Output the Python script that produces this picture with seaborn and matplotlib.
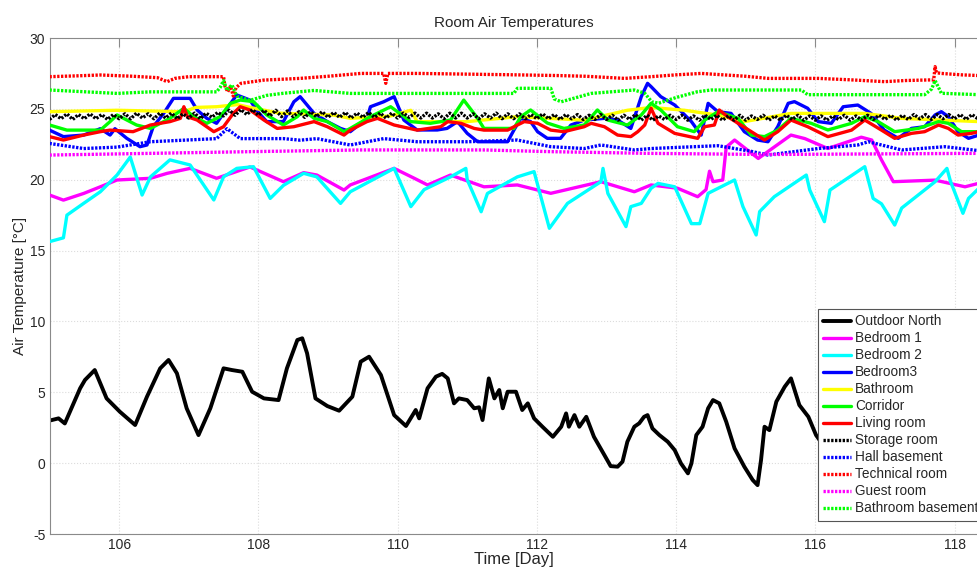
import numpy as np
import pandas as pd
import matplotlib
matplotlib.use("Agg")
import matplotlib.pyplot as plt
import seaborn as sns

# ---------------- data ----------------
outdoor_x = [105.0, 105.13, 105.22, 105.44, 105.51, 105.65, 105.82, 106.01, 106.23, 106.40,
             106.59, 106.71, 106.83, 106.97, 107.14, 107.31, 107.50, 107.62, 107.77, 107.91,
             108.08, 108.29, 108.41, 108.56, 108.63, 108.70, 108.82, 108.99, 109.16, 109.35,
             109.47, 109.59, 109.76, 109.95, 110.12, 110.26, 110.31, 110.43, 110.55, 110.64,
             110.72, 110.81, 110.88, 111.00, 111.10, 111.17, 111.22, 111.31, 111.39, 111.46,
             111.51, 111.58, 111.70, 111.79, 111.87, 111.96, 112.08, 112.23, 112.35, 112.42,
             112.46, 112.54, 112.61, 112.71, 112.82, 112.97, 113.06, 113.16, 113.23, 113.30,
             113.40, 113.47, 113.54, 113.59, 113.66, 113.76, 113.88, 113.98, 114.07, 114.17,
             114.22, 114.29, 114.38, 114.46, 114.53, 114.62, 114.72, 114.84, 114.98, 115.10,
             115.17, 115.22, 115.27, 115.34, 115.44, 115.56, 115.65, 115.77, 115.90, 116.01,
             116.11, 116.30, 116.60, 116.90, 117.20, 117.50, 117.80, 118.10, 118.40]
outdoor_y = [3.00, 3.16, 2.80, 5.28, 5.87, 6.57, 4.57, 3.63, 2.69, 4.69,
             6.69, 7.28, 6.34, 3.87, 1.98, 3.87, 6.69, 6.57, 6.45, 5.04,
             4.57, 4.45, 6.69, 8.69, 8.81, 7.75, 4.57, 4.03, 3.70, 4.69,
             7.16, 7.51, 6.22, 3.39, 2.62, 3.75, 3.16, 5.28, 6.10, 6.30,
             5.98, 4.22, 4.57, 4.45, 3.87, 3.94, 3.04, 5.98, 4.57, 5.16,
             3.87, 5.04, 5.04, 3.75, 4.22, 3.16, 2.57, 1.86, 2.57, 3.51,
             2.57, 3.39, 2.57, 3.27, 1.86, 0.57, -0.21, -0.25, 0.10, 1.51,
             2.57, 2.81, 3.27, 3.39, 2.45, 1.98, 1.51, 0.92, -0.02, -0.72,
             -0.02, 1.98, 2.57, 3.87, 4.45, 4.22, 2.92, 1.04, -0.25, -1.19,
             -1.55, 0.22, 2.57, 2.33, 4.34, 5.39, 5.98, 4.10, 3.27, 1.98,
             1.28, 0.80, 2.50, 5.00, 4.00, 1.50, 3.00, 5.50, 4.00]

bed1_x = [105.0, 105.2, 105.49, 105.73, 105.97, 106.45, 106.69, 107.02, 107.4, 107.88,
          108.36, 108.65, 108.84, 109.23, 109.32, 109.95, 110.24, 110.43, 110.76, 111.24,
          111.72, 112.2, 112.92, 113.4, 113.64, 114.02, 114.31, 114.43, 114.48, 114.53,
          114.67, 114.72, 114.84, 115.18, 115.65, 115.85, 116.18, 116.66, 116.81, 116.95,
          117.12, 117.72, 118.15, 118.35]
bed1_y = [18.92, 18.56, 19.03, 19.5, 19.98, 20.1, 20.45, 20.8, 20.1, 20.9,
          19.86, 20.5, 20.33, 19.27, 19.63, 20.8, 20.1, 19.63, 20.33, 19.5,
          19.63, 19.04, 19.86, 19.15, 19.63, 19.4, 18.8, 19.3, 20.6, 19.86,
          19.98, 22.3, 22.8, 21.5, 23.15, 22.9, 22.2, 23.0, 22.8, 21.4,
          19.86, 19.97, 19.5, 19.75]

bed2_x = [105.0, 105.2, 105.25, 105.49, 105.73, 105.97, 106.16, 106.33, 106.45, 106.73,
          107.02, 107.36, 107.5, 107.69, 107.93, 108.17, 108.36, 108.65, 108.84, 109.18,
          109.32, 109.95, 110.19, 110.38, 110.76, 110.98, 111.0, 111.2, 111.29, 111.72,
          111.96, 112.18, 112.44, 112.92, 112.95, 113.02, 113.28, 113.35, 113.5, 113.64,
          113.74, 113.98, 114.22, 114.34, 114.46, 114.84, 114.96, 115.15, 115.2, 115.41,
          115.87, 115.92, 116.13, 116.21, 116.71, 116.83, 116.95, 117.14, 117.24, 117.72,
          117.89, 117.94, 118.12, 118.2, 118.35]
bed2_y = [15.63, 15.9, 17.5, 18.33, 19.15, 20.33, 21.6, 18.92, 20.2, 21.4,
          21.04, 18.57, 20.2, 20.8, 20.92, 18.68, 19.6, 20.45, 20.2, 18.33,
          19.15, 20.8, 18.1, 19.3, 20.2, 20.8, 20.0, 17.74, 19.03, 20.2,
          20.57, 16.57, 18.33, 19.86, 20.8, 19.03, 16.69, 18.1, 18.33, 19.39,
          19.74, 19.5, 16.9, 16.9, 19.04, 19.98, 18.1, 16.1, 17.75, 18.8,
          20.33, 19.27, 17.04, 19.27, 20.92, 18.68, 18.3, 16.8, 18.0, 19.86,
          20.8, 19.9, 17.63, 18.68, 19.4]

bed3_x = [105.0, 105.2, 105.49, 105.73, 105.87, 105.94, 106.11, 106.3, 106.4, 106.49,
          106.64, 106.78, 107.02, 107.12, 107.26, 107.4, 107.55, 107.69, 107.88, 107.98,
          108.12, 108.36, 108.51, 108.6, 108.8, 108.99, 109.18, 109.32, 109.56, 109.61,
          109.8, 109.95, 110.09, 110.28, 110.57, 110.71, 110.86, 111.0, 111.15, 111.58,
          111.67, 111.77, 111.91, 112.01, 112.15, 112.34, 112.49, 112.68, 112.97, 113.16,
          113.35, 113.5, 113.59, 113.64, 113.78, 113.98, 114.22, 114.36, 114.46, 114.6,
          114.79, 114.98, 115.17, 115.32, 115.46, 115.61, 115.7, 115.89, 116.04, 116.23,
          116.4, 116.61, 116.8, 116.99, 117.19, 117.38, 117.57, 117.72, 117.81, 117.91,
          118.05, 118.2, 118.35]
bed3_y = [23.5, 23.04, 23.15, 23.6, 23.15, 23.6, 22.92, 22.33, 22.45, 23.74,
          24.68, 25.74, 25.74, 24.92, 24.33, 23.98, 25.04, 25.98, 25.62, 24.86,
          24.1, 24.1, 25.5, 25.86, 24.68, 24.1, 23.62, 23.39, 24.33, 25.15,
          25.5, 25.86, 24.21, 23.51, 23.51, 23.62, 24.1, 23.27, 22.68, 22.68,
          23.5, 24.33, 24.1, 23.39, 22.92, 22.92, 23.86, 24.21, 24.33, 24.21,
          23.62, 25.86, 26.8, 26.57, 25.86, 25.27, 24.1, 23.15, 25.39, 24.8,
          24.68, 23.39, 22.8, 22.68, 23.74, 25.39, 25.51, 25.04, 24.1, 23.98,
          25.15, 25.27, 24.68, 23.5, 22.92, 23.62, 23.74, 24.57, 24.8, 24.45,
          23.39, 22.92, 23.15]

bath_x = [105.0, 105.97, 106.93, 107.1, 107.4, 107.7, 107.88, 108.3, 109.08, 109.32,
          109.9, 110.19, 110.28, 111.0, 111.72, 112.68, 113.3, 113.64, 114.12, 114.6,
          114.98, 115.65, 116.71, 117.24, 118.35]
bath_y = [24.8, 24.9, 24.8, 25.1, 25.15, 25.3, 25.1, 24.7, 24.56, 24.33,
          24.5, 24.9, 24.1, 24.1, 24.45, 24.2, 24.9, 25.1, 24.9, 24.56,
          24.1, 24.68, 24.68, 24.33, 24.1]

corr_x = [105.0, 105.25, 105.73, 105.87, 105.97, 106.25, 106.45, 106.73, 106.93, 107.07,
          107.26, 107.45, 107.6, 107.74, 107.93, 108.12, 108.36, 108.56, 108.65, 108.8,
          108.99, 109.23, 109.32, 109.61, 109.9, 110.19, 110.47, 110.76, 110.95, 111.15,
          111.24, 111.67, 111.77, 111.91, 112.15, 112.39, 112.68, 112.87, 113.02, 113.3,
          113.5, 113.64, 113.78, 114.02, 114.26, 114.41, 114.6, 114.89, 115.08, 115.27,
          115.46, 115.65, 115.94, 116.18, 116.52, 116.71, 116.9, 117.14, 117.48, 117.77,
          117.91, 118.1, 118.35]
corr_y = [23.86, 23.5, 23.5, 24.1, 24.57, 23.86, 23.62, 24.33, 25.04, 24.45,
          23.98, 24.45, 25.39, 25.62, 25.51, 24.57, 23.86, 24.45, 24.92, 24.33,
          24.1, 23.39, 23.62, 24.45, 25.15, 24.1, 23.98, 24.21, 25.62, 24.33,
          23.62, 23.62, 24.45, 24.92, 24.0, 23.62, 23.86, 24.92, 24.21, 23.86,
          24.57, 25.39, 24.92, 23.74, 23.39, 24.2, 24.8, 24.33, 23.15, 23.04,
          23.5, 24.33, 23.98, 23.51, 23.98, 24.45, 24.1, 23.39, 23.62, 24.1,
          23.98, 23.39, 23.39]

living_x = [105.0, 105.2, 105.49, 105.73, 105.87, 106.2, 106.45, 106.73, 106.88, 106.93,
            106.98, 107.12, 107.36, 107.5, 107.64, 107.74, 107.88, 108.08, 108.27, 108.51,
            108.8, 108.99, 109.23, 109.32, 109.56, 109.71, 109.95, 110.28, 110.62, 110.72,
            110.91, 111.1, 111.24, 111.58, 111.72, 111.82, 112.01, 112.2, 112.39, 112.68,
            112.78, 112.97, 113.16, 113.35, 113.45, 113.55, 113.64, 113.74, 113.98, 114.31,
            114.41, 114.55, 114.62, 114.74, 115.08, 115.27, 115.46, 115.65, 115.89, 116.18,
            116.52, 116.71, 116.95, 117.14, 117.38, 117.57, 117.77, 117.91, 118.05, 118.24,
            118.35]
living_y = [23.04, 22.8, 23.15, 23.39, 23.5, 23.39, 23.86, 24.1, 24.33, 25.15,
            24.45, 24.21, 23.39, 23.74, 24.68, 25.15, 24.92, 24.21, 23.62, 23.74,
            24.1, 23.74, 23.15, 23.5, 24.1, 24.33, 23.86, 23.5, 23.74, 24.1,
            23.98, 23.62, 23.5, 23.5, 23.86, 24.1, 23.98, 23.5, 23.39, 23.74,
            23.98, 23.74, 23.15, 23.04, 23.39, 23.86, 25.04, 23.98, 23.27, 22.92,
            23.74, 23.86, 24.92, 24.45, 23.39, 22.8, 23.39, 24.21, 23.74, 23.04,
            23.5, 24.21, 23.5, 22.92, 23.27, 23.39, 23.86, 23.62, 23.15, 23.27,
            23.39]

# Storage room: 2-hourly readings (12 per day) starting at day 105
storage_step = 1.0 / 12.0
storage_y = [
    24.25, 24.6, 24.3, 24.65, 24.25, 24.6, 24.3, 24.65, 24.3, 24.6, 24.25, 24.6,
    24.3, 24.65, 24.3, 24.7, 24.35, 24.65, 24.3, 24.7, 24.35, 24.7, 24.3, 24.65,
    24.35, 24.7, 24.3, 24.7, 24.4, 24.75, 24.5, 24.9, 24.55, 24.95, 24.6, 24.95,
    24.55, 24.9, 24.5, 24.9, 24.45, 24.85, 24.45, 24.8, 24.4, 24.8, 24.45, 24.8,
    24.4, 24.75, 24.4, 24.75, 24.35, 24.7, 24.4, 24.75, 24.4, 24.7, 24.35, 24.7,
    24.35, 24.7, 24.4, 24.7, 24.35, 24.7, 24.35, 24.65, 24.3, 24.7, 24.35, 24.7,
    24.35, 24.65, 24.3, 24.65, 24.35, 24.7, 24.3, 24.65, 24.3, 24.65, 24.3, 24.6,
    24.3, 24.65, 24.3, 24.6, 24.25, 24.6, 24.3, 24.6, 24.25, 24.55, 24.25, 24.6,
    24.25, 24.55, 24.2, 24.55, 24.25, 24.6, 24.2, 24.55, 24.2, 24.5, 24.25, 24.55,
    24.25, 24.55, 24.2, 24.5, 24.2, 24.55, 24.25, 24.55, 24.2, 24.5, 24.2, 24.55,
    24.2, 24.5, 24.25, 24.55, 24.2, 24.5, 24.2, 24.55, 24.25, 24.55, 24.2, 24.5,
    24.2, 24.5, 24.2, 24.5, 24.25, 24.55, 24.2, 24.5, 24.2, 24.55, 24.25, 24.55,
    24.25, 24.55, 24.2, 24.55, 24.25, 24.6, 24.3, 24.6, 24.25, 24.6, 24.3, 24.6,
    24.3, 24.6, 24.25, 24.6, 24.3]

hall_x = [105.0, 105.49, 105.97, 106.45, 106.93, 107.4, 107.55, 107.74, 108.36, 108.6,
          108.84, 109.32, 109.8, 110.28, 111.0, 111.72, 112.2, 112.68, 112.92, 113.4,
          113.64, 114.6, 115.08, 115.32, 116.04, 116.61, 116.76, 117.24, 117.86, 118.35]
hall_y = [22.56, 22.2, 22.3, 22.68, 22.79, 22.9, 23.6, 22.9, 22.9, 22.79,
          22.9, 22.45, 22.9, 22.68, 22.68, 22.8, 22.33, 22.2, 22.45, 22.1,
          22.2, 22.4, 22.0, 21.74, 22.2, 22.45, 22.68, 22.1, 22.33, 22.05]

tech_x = [105.0, 105.4, 105.73, 106.2, 106.55, 106.69, 106.8, 107.0, 107.5, 107.52,
          107.56, 107.6, 107.64, 107.68, 107.75, 108.08, 108.6, 109.0, 109.47, 109.8,
          109.83, 109.86, 110.3, 111.0, 111.7, 112.3, 112.7, 113.26, 113.64, 114.0,
          114.36, 115.0, 115.32, 116.04, 116.5, 116.99, 117.3, 117.62, 117.70, 117.72,
          117.74, 117.81, 118.1, 118.35]
tech_y = [27.27, 27.33, 27.39, 27.3, 27.2, 26.92, 27.15, 27.27, 27.27, 26.6,
          26.2, 26.6, 25.9, 26.5, 26.8, 27.03, 27.15, 27.3, 27.5, 27.5,
          26.8, 27.5, 27.5, 27.45, 27.4, 27.35, 27.3, 27.15, 27.27, 27.4,
          27.5, 27.3, 27.15, 27.15, 27.05, 26.92, 27.0, 27.04, 27.04, 27.98,
          27.55, 27.5, 27.4, 27.35]

guest_x = [105.0, 106.45, 107.88, 109.47, 111.24, 112.2, 113.6, 115.3, 118.35]
guest_y = [21.74, 21.86, 21.98, 22.1, 22.1, 21.98, 21.86, 21.78, 21.86]

bbase_x = [105.0, 105.97, 106.45, 107.4, 107.45, 107.5, 107.55, 107.62, 107.69, 107.88,
           108.12, 108.36, 108.8, 109.32, 111.67, 111.72, 112.2, 112.25, 112.35, 112.78,
           113.4, 113.55, 113.65, 113.75, 114.0, 114.3, 114.5, 115.8, 115.89, 117.57,
           117.67, 117.72, 117.81, 118.35]
bbase_y = [26.33, 26.09, 26.2, 26.2, 26.5, 27.0, 26.3, 26.7, 25.9, 25.6,
           25.95, 26.1, 26.3, 26.09, 26.09, 26.45, 26.45, 25.7, 25.5, 26.09,
           26.33, 26.1, 25.5, 25.4, 25.8, 26.2, 26.33, 26.33, 26.0, 26.0,
           26.4, 27.0, 26.1, 26.0]

labels = ["Outdoor North", "Bedroom 1", "Bedroom 2", "Bedroom3", "Bathroom", "Corridor",
          "Living room", "Storage room", "Hall basement", "Technical room", "Guest room",
          "Bathroom basement"]
colors = ["#000000", "#ff00ff", "#00ffff", "#0000ff", "#ffff00", "#00ff00",
          "#ff0000", "#000000", "#0000ff", "#ff0000", "#ff00ff", "#00ff00"]
x_ticks = [106, 108, 110, 112, 114, 116, 118]
y_ticks = [-5, 0, 5, 10, 15, 20, 25, 30]

storage_x = list(105.0 + storage_step * np.arange(len(storage_y)))

series = [(outdoor_x, outdoor_y), (bed1_x, bed1_y), (bed2_x, bed2_y), (bed3_x, bed3_y),
          (bath_x, bath_y), (corr_x, corr_y), (living_x, living_y), (storage_x, storage_y),
          (hall_x, hall_y), (tech_x, tech_y), (guest_x, guest_y), (bbase_x, bbase_y)]

# ---------------- plot ----------------
sns.set_style("white")
plt.rcParams["font.family"] = ["Liberation Sans", "DejaVu Sans"]
plt.rcParams["axes.unicode_minus"] = False

W, H = 977, 567
fig = plt.figure(figsize=(W / 100, H / 100), dpi=100)
ax = fig.add_axes([49.5 / W, (H - 534) / H, (W - 49.5) / W + 0.002, (534 - 38) / H])

dotted = (0, (0.7, 0.45))
for i, ((xs, ys), lab, col) in enumerate(zip(series, labels, colors)):
    df = pd.DataFrame({"Day": xs, "Temp": ys})
    ls = "-" if i < 7 else dotted
    lw = 2.8 if i == 0 else 2.4
    sns.lineplot(data=df, x="Day", y="Temp", ax=ax, color=col, lw=lw,
                 linestyle=ls, label=lab, sort=False, estimator=None, zorder=2 + i)

ax.set_xlim(105, 118.35)
ax.set_ylim(-5, 30)
ax.set_xticks(x_ticks)
ax.set_yticks(y_ticks)
ax.grid(True, color="#dcdcdc", linestyle=":", linewidth=0.8)
ax.set_axisbelow(True)
for s in ["left", "bottom", "top"]:
    ax.spines[s].set_color("#8a8a8a")
    ax.spines[s].set_linewidth(0.8)
ax.spines["right"].set_visible(False)
ax.tick_params(direction="in", length=6.5, width=0.8, color="#8a8a8a",
               top=True, right=False, labelsize=10, labelcolor="#262626", pad=3)

ax.set_title("Room Air Temperatures", fontsize=11, color="#262626", pad=8)
ax.set_xlabel("Time [Day]", fontsize=12, color="#262626", labelpad=0)
ax.set_ylabel("Air Temperature [°C]", fontsize=11, color="#262626", labelpad=2)

handles, labs = ax.get_legend_handles_labels()
leg = ax.legend(handles, labs, loc="upper left",
                bbox_to_anchor=(818 / W, 1 - 309 / H), bbox_transform=fig.transFigure,
                fontsize=9.8, frameon=True, fancybox=False, framealpha=1,
                edgecolor="#555555", borderpad=0.4, labelspacing=0.22,
                handlelength=2.0, handletextpad=0.3, borderaxespad=0)
leg.get_frame().set_linewidth(0.8)
leg.set_zorder(50)

fig.savefig("out.png", dpi=100)
